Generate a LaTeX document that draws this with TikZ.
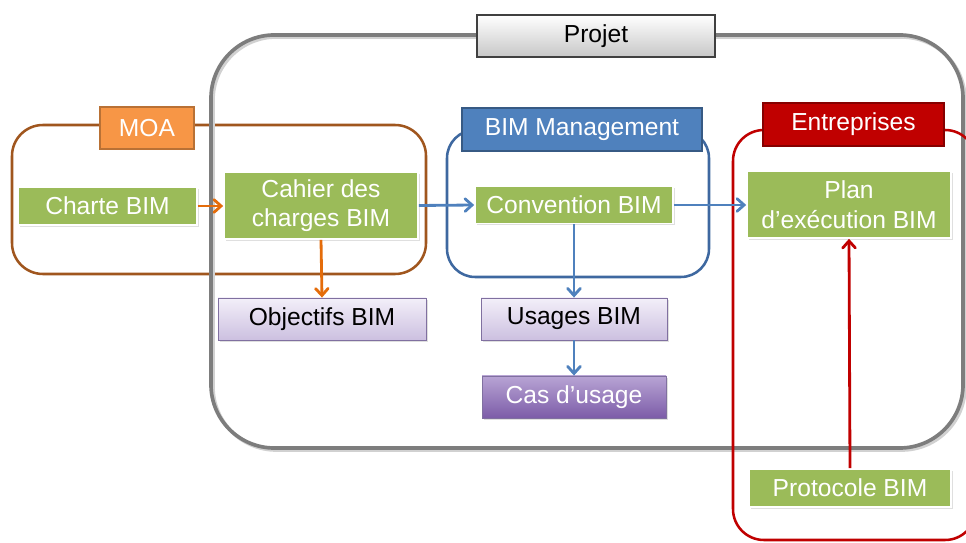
\documentclass[tikz,border=0pt]{standalone}
\usepackage{fontspec}
\setmainfont{Liberation Sans}
\usetikzlibrary{arrows.meta,shadows}
\newlength\pxu
\setlength\pxu{0.025cm}
\definecolor{boxgreen}{RGB}{155,187,89}
\definecolor{projgray}{RGB}{125,125,125}
\definecolor{moabrown}{RGB}{160,86,30}
\definecolor{moaorange}{RGB}{247,150,70}
\definecolor{arroworange}{RGB}{228,108,10}
\definecolor{bimblue}{RGB}{79,129,189}
\definecolor{bimline}{RGB}{62,104,160}
\definecolor{entred}{RGB}{192,0,0}
\definecolor{lavtop}{RGB}{243,239,249}
\definecolor{lavbot}{RGB}{204,192,224}
\definecolor{lavline}{RGB}{128,112,160}
\definecolor{purtop}{RGB}{184,164,212}
\definecolor{purbot}{RGB}{124,92,168}
\tikzset{
  txt/.style={font=\fontsize{17.5}{21}\selectfont, align=center, inner sep=0pt},
  greenbox/.style={txt, fill=boxgreen, text=white, draw=white, line width=1.2pt,
    drop shadow={opacity=0.25, shadow xshift=1.2pt, shadow yshift=-1.2pt}},
  lavbox/.style={txt, top color=lavtop, bottom color=lavbot, draw=lavline, line width=0.6pt,
    drop shadow={opacity=0.25, shadow xshift=1.2pt, shadow yshift=-1.2pt}},
  purbox/.style={txt, top color=purtop, bottom color=purbot, text=white, draw=lavline, line width=0.6pt,
    drop shadow={opacity=0.25, shadow xshift=1.2pt, shadow yshift=-1.2pt}},
  grouplabel/.style={txt, text=white, line width=0.8pt},
  group/.style={line width=1.8pt, rounded corners=#1},
  link/.style={line width=2pt, -{Straight Barb[length=5pt,width=9pt,line cap=round]}},
}
\begin{document}
\begin{tikzpicture}[x=0.025cm, y=-0.025cm]
  \useasboundingbox (0,0) rectangle (966,543);
  \clip (0,0) rectangle (966,543);
  % groups
  \draw[group=22pt, draw=moabrown] (12,125) rectangle (426,274);
  \draw[group=45pt, draw=black!18, line width=2.6pt] (213,37) rectangle (965,450);
  \draw[group=45pt, draw=projgray, line width=2.6pt] (211,35) rectangle (963,448);
  \draw[group=20pt, draw=bimline] (447,130) rectangle (709,277);
  \draw[group=22pt, draw=entred] (733,130) rectangle (976,540);
  % group titles
  \node[txt, minimum width=238\pxu, minimum height=42\pxu, top color=white, bottom color=black!22,
        draw=black!75, line width=0.8pt,
        drop shadow={opacity=0.3, shadow xshift=1pt, shadow yshift=-1pt}] (projlab) at (596,36) {Projet};
  \node[grouplabel, minimum width=94\pxu, minimum height=42\pxu, fill=moaorange, draw=moaorange!75!black] (moalab) at (147,128) {MOA};
  \node[grouplabel, minimum width=240\pxu, minimum height=43\pxu, fill=bimblue, draw=bimblue!70!black] (bimlab) at (582,129.5) {BIM Management};
  \node[grouplabel, minimum width=181\pxu, minimum height=43\pxu, fill=entred, draw=entred!70!black] (entlab) at (853.5,124.5) {Entreprises};
  % documents
  \node[greenbox, minimum width=179\pxu, minimum height=38\pxu] (charte) at (107.5,206) {Charte BIM};
  \node[greenbox, minimum width=194\pxu, minimum height=67\pxu] (cahier) at (321,205.5) {Cahier des\\charges BIM};
  \node[lavbox, minimum width=208\pxu, minimum height=42\pxu] (objectifs) at (322,319) {Objectifs BIM};
  \node[greenbox, minimum width=198\pxu, minimum height=37\pxu] (convention) at (574,205) {Convention BIM};
  \node[lavbox, minimum width=186\pxu, minimum height=42\pxu] (usages) at (574,319) {Usages BIM};
  \node[purbox, minimum width=184\pxu, minimum height=42\pxu] (cas) at (574,397) {Cas d’usage};
  \node[greenbox, minimum width=204\pxu, minimum height=67\pxu] (plan) at (849,204.5) {Plan\\d’exécution BIM};
  \node[greenbox, minimum width=202\pxu, minimum height=38\pxu] (protocole) at (850,488) {Protocole BIM};
  % links
  \draw[link, draw=arroworange] (charte.east) -- (cahier.west |- charte.east);
  \draw[link, draw=arroworange] (cahier.south) -- (objectifs.north);
  \draw[link, draw=bimblue] (cahier.east) -- (convention.west);
  \draw[link, draw=bimblue] (convention.south) -- (usages.north);
  \draw[link, draw=bimblue] (usages.south) -- (cas.north);
  \draw[link, draw=bimblue] (convention.east) -- (plan.west |- convention.east);
  \draw[link, draw=entred] (protocole.north) -- (plan.south);
\end{tikzpicture}
\end{document}
